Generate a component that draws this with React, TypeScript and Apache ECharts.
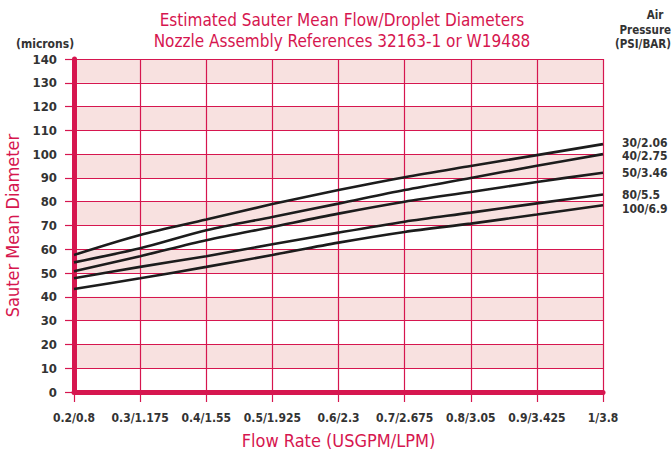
import React, { useEffect, useRef } from "react";
import * as echarts from "echarts";

const xCategories = ["0.2/0.8", "0.3/1.175", "0.4/1.55", "0.5/1.925", "0.6/2.3", "0.7/2.675", "0.8/3.05", "0.9/3.425", "1/3.8"];
const seriesNames = ["30/2.06", "40/2.75", "50/3.46", "80/5.5", "100/6.9"];
const psi30 = [57.6, 66.0, 72.5, 79.0, 84.9, 90.3, 95.0, 99.6, 104.2];
const psi40 = [54.5, 60.4, 68.0, 73.6, 79.2, 84.9, 90.0, 95.1, 100.0];
const psi50 = [50.8, 57.1, 63.8, 69.4, 75.0, 80.0, 84.1, 88.3, 92.2];
const psi80 = [47.8, 52.6, 57.1, 62.1, 67.0, 71.6, 75.4, 79.3, 83.0];
const psi100 = [43.3, 47.8, 52.6, 57.6, 62.8, 67.3, 70.8, 74.6, 78.5];
const labelOffsets = [-1, 2, 0, 0, 4];

const RED = "#d6164f";
const NARROW = "'Liberation Sans Narrow', 'DejaVu Sans Condensed', 'Liberation Sans', sans-serif";

export default function App() {
  const ref = useRef<HTMLDivElement>(null);
  useEffect(() => {
    if (!ref.current) return;
    const chart = echarts.init(ref.current, null, { renderer: "svg" });
    const all = [psi30, psi40, psi50, psi80, psi100];
    chart.setOption({
      animation: false,
      backgroundColor: "#ffffff",
      title: {
        text: "Estimated Sauter Mean Flow/Droplet Diameters\nNozzle Assembly References 32163-1 or W19488",
        left: 337,
        textAlign: "center",
        top: 4,
        textStyle: { color: RED, fontFamily: NARROW, fontSize: 17, fontWeight: "normal", lineHeight: 21 },
      },
      graphic: [
        { type: "text", left: 16, top: 38, style: { text: "(microns)", fontFamily: NARROW, fontSize: 12, fontWeight: "bold", fill: "#333" } },
        { type: "text", x: 655, y: 15, style: { text: "Air", align: "center", verticalAlign: "middle", fontFamily: NARROW, fontSize: 11.5, fontWeight: "bold", fill: "#333" } },
        { type: "text", x: 671, y: 30, style: { text: "Pressure", align: "right", verticalAlign: "middle", fontFamily: NARROW, fontSize: 11.5, fontWeight: "bold", fill: "#333" } },
        { type: "text", x: 671, y: 44, style: { text: "(PSI/BAR)", align: "right", verticalAlign: "middle", fontFamily: NARROW, fontSize: 11.5, fontWeight: "bold", fill: "#333" } },
      ],
      grid: { left: 74, right: 69, top: 59, bottom: 61, outerBoundsMode: "none", containLabel: false },
      xAxis: {
        type: "category",
        data: xCategories,
        boundaryGap: false,
        name: "Flow Rate (USGPM/LPM)",
        nameLocation: "middle",
        nameGap: 39,
        nameTextStyle: { color: RED, fontFamily: NARROW, fontSize: 18 },
        axisLine: { show: true, lineStyle: { color: RED, width: 5 } },
        axisTick: { show: true, interval: 0, length: 10, alignWithLabel: true, lineStyle: { color: RED, width: 1.2 } },
        axisLabel: { interval: 0, margin: 20, color: "#333", fontWeight: "bold", fontSize: 12, fontFamily: NARROW },
        splitLine: { show: true, interval: 0, lineStyle: { color: RED, width: 1.2 } },
      },
      yAxis: {
        type: "value",
        min: 0,
        max: 140,
        interval: 10,
        name: "Sauter Mean Diameter",
        nameLocation: "middle",
        nameGap: 52,
        nameTextStyle: { color: RED, fontFamily: NARROW, fontSize: 18 },
        axisLine: { show: true, lineStyle: { color: RED, width: 5 } },
        axisTick: { show: true, length: 9, lineStyle: { color: RED, width: 1.2 } },
        axisLabel: { margin: 17, color: "#333", fontWeight: "bold", fontSize: 13, fontFamily: NARROW },
        splitLine: { show: true, lineStyle: { color: RED, width: 1.2 } },
        splitArea: { show: true, areaStyle: { color: ["rgba(255,255,255,0)", "#f8e1e0"] } },
      },
      series: all.map((d, i) => ({
        type: "line",
        name: seriesNames[i],
        data: d,
        smooth: 0.3,
        showSymbol: false,
        symbol: "none",
        lineStyle: { color: "#1c1c1c", width: 2.6 },
        endLabel: {
          show: true,
          formatter: "{a}",
          distance: 19,
          offset: [0, labelOffsets[i]],
          color: "#333",
          fontWeight: "bold",
          fontSize: 12,
          fontFamily: NARROW,
        },
        z: 5,
      })),
    });
    return () => chart.dispose();
  }, []);
  return <div ref={ref} style={{ width: 672, height: 453, position: "absolute", left: 0, top: 0 }} />;
}
